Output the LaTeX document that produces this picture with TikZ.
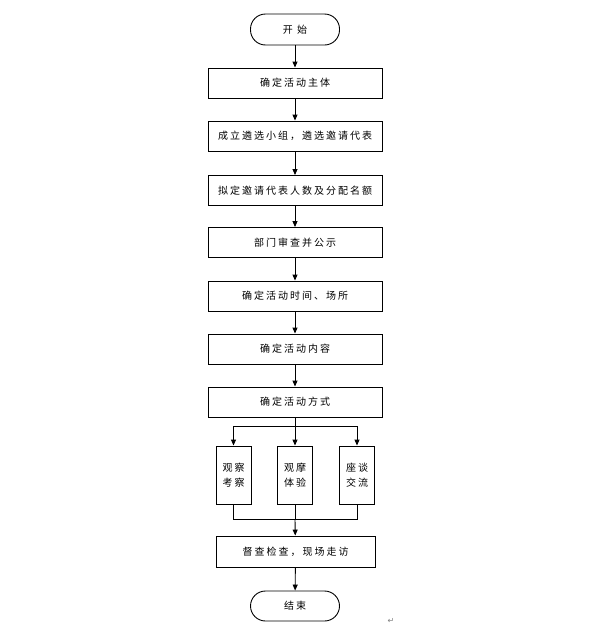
\documentclass[tikz,border=0pt]{standalone}
\usepackage{fontspec}
\usepackage{tikz}
\usetikzlibrary{arrows.meta}
\newfontfamily\cjk[LetterSpace=20]{Noto Sans CJK SC}
\newfontfamily\symfont{DejaVu Sans}

\begin{document}
\begin{tikzpicture}[x=1pt, y=-1pt, line width=0.9pt,
  font=\cjk\fontsize{10}{15}\selectfont,
  every node/.style={inner sep=0pt},
  stepbox/.style={draw, minimum width=174pt, minimum height=30pt},
  termbox/.style={draw, rounded corners=15pt, minimum width=89pt, minimum height=31pt},
  sidebox/.style={draw, minimum width=35pt, minimum height=58pt, align=center},
  arr/.style={-{Triangle[length=6pt, width=5pt]}}]

\useasboundingbox[fill=white] (0,0) rectangle (596,635);

% Start and main chain
\node[termbox] (start) at (295,29.5) {开 始};
\node[stepbox] (s1) at (295,83) {确定活动主体};
\node[stepbox] (s2) at (295,136) {成立遴选小组，遴选邀请代表};
\node[stepbox] (s3) at (295,190.5) {拟定邀请代表人数及分配名额};
\node[stepbox] (s4) at (295,242.5) {部门审查并公示};
\node[stepbox] (s5) at (295,296) {确定活动时间、场所};
\node[stepbox] (s6) at (295,349) {确定活动内容};
\node[stepbox] (s7) at (295,402) {确定活动方式};

\draw[arr] (start) -- (s1);
\draw[arr] (s1) -- (s2);
\draw[arr] (s2) -- (s3);
\draw[arr] (s3) -- (s4);
\draw[arr] (s4) -- (s5);
\draw[arr] (s5) -- (s6);
\draw[arr] (s6) -- (s7);

% Three ways
\coordinate (split) at (295,426);
\coordinate (merge) at (295,519);
\node[sidebox] (wayA) at (233.5,475) {观察\\考察};
\node[sidebox] (wayB) at (295,475) {观摩\\体验};
\node[sidebox] (wayC) at (357,475) {座谈\\交流};

\draw (s7) -- (split);
\draw[arr] (split) -| (wayA);
\draw[arr] (split) -- (wayB);
\draw[arr] (split) -| (wayC);
\draw (wayA) |- (merge);
\draw (wayB) -- (merge);
\draw (wayC) |- (merge);

% Check and end
\node[stepbox, minimum width=159pt, minimum height=31pt] (s8) at (295.5,551.5) {督查检查，现场走访};
\node[termbox, minimum height=30pt] (stop) at (295,606) {结束};

\draw[arr] (merge) -- (s8);
\draw[arr] (s8) -- (stop);

\node[font=\symfont\fontsize{8}{8}\selectfont, text=gray] (mark) at (391,621) {↵};

\end{tikzpicture}
\end{document}
